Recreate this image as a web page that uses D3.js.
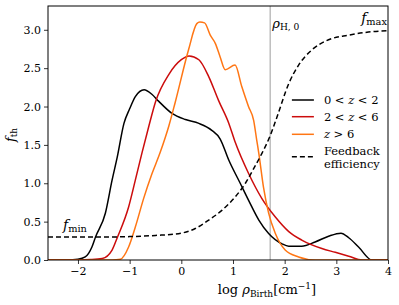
<!DOCTYPE html>
<html>
<head>
<meta charset="utf-8">
<script src="https://cdn.jsdelivr.net/npm/d3@7"></script>
<style>
  body { margin: 0; background: #fff; }
  text { font-family: "DejaVu Serif", "Liberation Serif", serif; fill: #000; }
</style>
</head>
<body>
<div id="my_dataviz"></div>
<script>
// values
const xTicks = [-2, -1, 0, 1, 2, 3, 4];
const yTicks = [0, 0.5, 1.0, 1.5, 2.0, 2.5, 3.0];

const lowZx = [-2.58, -2.2, -2.0, -1.86, -1.73, -1.66, -1.47, -1.34, -1.24, -1.11, -1.0, -0.89, -0.72, -0.57, -0.44, -0.18, 0.08, 0.34, 0.59, 0.75, 0.92, 1.14, 1.30, 1.50, 1.69, 1.95, 2.08, 2.33, 2.59, 2.85, 3.09, 3.24, 3.43, 3.69, 4.0];
const lowZy = [0, 0, 0.01, 0.04, 0.17, 0.30, 0.61, 1.04, 1.34, 1.78, 1.97, 2.13, 2.22, 2.16, 2.07, 1.91, 1.83, 1.78, 1.69, 1.58, 1.30, 1.0, 0.78, 0.52, 0.345, 0.21, 0.18, 0.18, 0.235, 0.31, 0.35, 0.29, 0.17, 0, 0];

const midZx = [-2.58, -2.0, -1.75, -1.53, -1.34, -1.24, -1.02, -0.89, -0.76, -0.63, -0.50, -0.24, 0.0, 0.15, 0.34, 0.53, 0.72, 0.92, 1.04, 1.30, 1.56, 1.82, 2.08, 2.33, 2.72, 2.98, 3.24, 3.50, 4.0];
const midZy = [0, 0, 0.005, 0.02, 0.13, 0.29, 0.69, 1.04, 1.40, 1.74, 2.06, 2.42, 2.61, 2.66, 2.61, 2.39, 2.08, 1.78, 1.54, 1.13, 0.80, 0.56, 0.37, 0.26, 0.15, 0.10, 0.05, 0.0, 0];

const highZx = [-2.58, -1.34, -1.18, -1.02, -0.89, -0.73, -0.57, -0.41, -0.24, -0.12, 0.14, 0.30, 0.36, 0.45, 0.56, 0.66, 0.75, 0.85, 1.04, 1.17, 1.30, 1.40, 1.46, 1.50, 1.59, 1.69, 1.82, 2.01, 2.27, 2.59, 4.0];
const highZy = [0, 0, 0.01, 0.17, 0.43, 0.80, 1.12, 1.40, 1.75, 2.05, 2.74, 3.08, 3.10, 3.09, 2.93, 2.82, 2.65, 2.48, 2.54, 2.26, 2.0, 1.82, 1.56, 1.39, 0.95, 0.61, 0.345, 0.13, 0.04, 0, 0];

const effX = [-2.58, -1.5, -1.0, -0.5, 0.0, 0.27, 0.53, 0.79, 1.04, 1.24, 1.40, 1.56, 1.72, 1.85, 2.08, 2.27, 2.53, 2.85, 3.24, 3.62, 4.0];
const effY = [0.30, 0.30, 0.305, 0.32, 0.35, 0.41, 0.52, 0.65, 0.82, 1.0, 1.19, 1.39, 1.62, 1.86, 2.30, 2.54, 2.74, 2.87, 2.93, 2.97, 2.99];

const rhoH0 = 1.72;

const seriesNames = ["0<z<2", "2<z<6", "z>6"];
const seriesColors = ["#000000", "#cc0c0c", "#ff7614"];

// set the dimensions and margins of the graph
const margin = {top: 6, right: 11, bottom: 45, left: 48},
    width = 399 - margin.left - margin.right,
    height = 305 - margin.top - margin.bottom;

const svg = d3.select("#my_dataviz")
    .append("svg")
    .attr("width", width + margin.left + margin.right)
    .attr("height", height + margin.top + margin.bottom)
    .append("g")
    .attr("transform", `translate(${margin.left},${margin.top})`);

const x = d3.scaleLinear().domain([-2.58, 4]).range([0, width]);
const y = d3.scaleLinear().domain([0, 3.31]).range([height, 0]);

const fmt = d => d3.format(".0f")(d).replace("-", "\u2212");
const serif = '"DejaVu Serif", "Liberation Serif", serif';

const xAxis = svg.append("g")
    .attr("transform", `translate(0, ${height})`)
    .call(d3.axisBottom(x).tickValues(xTicks).tickFormat(fmt).tickSizeOuter(0).tickSize(4).tickPadding(3));
const yAxis = svg.append("g")
    .call(d3.axisLeft(y).tickValues(yTicks).tickFormat(d3.format(".1f")).tickSizeOuter(0).tickSize(4).tickPadding(3));
[xAxis, yAxis].forEach(function(a) {
    a.attr("font-family", null).attr("font-size", null);
    a.select(".domain").remove();
    a.selectAll("line").attr("stroke", "#000").attr("stroke-width", 0.8);
    a.selectAll("text").style("font-family", serif).style("font-size", "11px");
});

// vertical line at rho_H,0
svg.append("line")
    .attr("x1", x(rhoH0)).attr("x2", x(rhoH0))
    .attr("y1", 0).attr("y2", height)
    .attr("stroke", "#b4b4b4")
    .attr("stroke-width", 1.3);

const line = d3.line()
    .x(d => x(d[0]))
    .y(d => y(d[1]))
    .curve(d3.curveMonotoneX);

const zip = (a, b) => a.map((v, i) => [v, b[i]]);
const series = [zip(lowZx, lowZy), zip(midZx, midZy), zip(highZx, highZy)];

// clip so lines stay inside the frame
svg.append("clipPath").attr("id", "clip")
    .append("rect").attr("width", width).attr("height", height);

series.forEach(function(s, i) {
    svg.append("path")
        .datum(s)
        .attr("clip-path", "url(#clip)")
        .attr("fill", "none")
        .attr("stroke", seriesColors[i])
        .attr("stroke-width", 1.5)
        .attr("stroke-linejoin", "round")
        .attr("d", line);
});

svg.append("path")
    .datum(zip(effX, effY))
    .attr("clip-path", "url(#clip)")
    .attr("fill", "none")
    .attr("stroke", "#000")
    .attr("stroke-width", 1.5)
    .attr("stroke-dasharray", "5,3")
    .attr("d", line);

// frame
svg.append("rect")
    .attr("width", width).attr("height", height)
    .attr("fill", "none")
    .attr("stroke", "#000")
    .attr("stroke-width", 1);

// annotations
function mathLabel(g, parts, size) {
    const t = g.append("text").style("font-size", size + "px");
    parts.forEach(function(p) {
        const ts = t.append("tspan").text(p.t);
        if (p.it) ts.style("font-style", "italic");
        if (p.sub) ts.style("font-size", (size * 0.7) + "px").attr("dy", p.dy);
    });
    return t;
}

mathLabel(svg, [{t: "f", it: true}, {t: "max", sub: true, dy: 2}], 14)
    .attr("x", x(3.48)).attr("y", 17);
mathLabel(svg, [{t: "\u03c1", it: true}, {t: "H, 0", sub: true, dy: 2}], 13)
    .attr("x", x(1.76)).attr("y", 22);
mathLabel(svg, [{t: "f", it: true}, {t: "min", sub: true, dy: 2}], 14)
    .attr("x", x(-2.29)).attr("y", 224);

// legend
const legend = svg.append("g").attr("transform", `translate(${x(2.14)}, 0)`);
const rows = [94, 110.7, 128.3];
seriesNames.forEach(function(name, i) {
    legend.append("line")
        .attr("x1", 0).attr("x2", 22)
        .attr("y1", rows[i]).attr("y2", rows[i])
        .attr("stroke", seriesColors[i]).attr("stroke-width", 1.5);
    const t = legend.append("text").attr("x", 32).attr("y", rows[i] + 4).style("font-size", "11.5px");
    name.match(/z|[^z]+/g).forEach(function(p) {
        const ts = t.append("tspan").text(p === "z" ? p : p.replace(/([<>])/g, " $1 "));
        if (p === "z") ts.style("font-style", "italic");
    });
});
legend.append("line")
    .attr("x1", 0).attr("x2", 22)
    .attr("y1", 150.7).attr("y2", 150.7)
    .attr("stroke", "#000").attr("stroke-width", 1.5)
    .attr("stroke-dasharray", "5,3");
legend.append("text").attr("x", 32).attr("y", 149).style("font-size", "11.5px").text("Feedback");
legend.append("text").attr("x", 32).attr("y", 161.5).style("font-size", "11.5px").text("efficiency");

// axis labels
const xl = svg.append("text")
    .attr("x", width / 2 + 49).attr("y", height + 34)
    .attr("text-anchor", "middle")
    .style("font-size", "13px");
xl.append("tspan").text("log ");
xl.append("tspan").text("\u03c1").style("font-style", "italic");
xl.append("tspan").text("Birth").style("font-size", "9px").attr("dy", 3);
xl.append("tspan").text("[cm").attr("dy", -3);
xl.append("tspan").text("\u22121").style("font-size", "9px").attr("dy", -5);
xl.append("tspan").text("]").attr("dy", 5);

const yl = svg.append("text")
    .attr("transform", `translate(${-33}, ${height / 2 + 2}) rotate(-90)`)
    .attr("text-anchor", "middle")
    .style("font-size", "13px");
yl.append("tspan").text("f").style("font-style", "italic");
yl.append("tspan").text("th").style("font-size", "9px").attr("dy", 2);
</script>
</body>
</html>
